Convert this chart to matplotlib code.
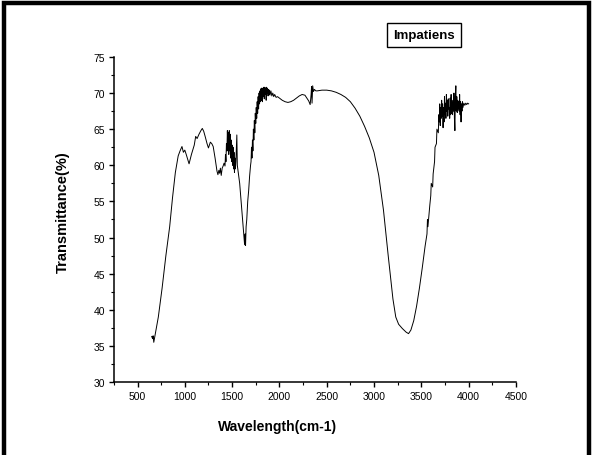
import matplotlib
matplotlib.use("Agg")
import matplotlib.pyplot as plt
from matplotlib.patches import Rectangle
from matplotlib.ticker import MultipleLocator

plt.rcParams["font.family"] = ["Liberation Sans", "DejaVu Sans"]

# FTIR spectrum
wavenumber = [
    650, 660, 665, 672, 690, 720, 760, 800, 840, 870, 900, 930, 950, 970, 985,
    1000, 1015, 1045, 1070, 1100, 1115, 1130, 1150, 1170, 1185, 1200, 1215,
    1235, 1250, 1270, 1285, 1300, 1320, 1340, 1350, 1360, 1368, 1376, 1385,
    1395, 1405, 1415, 1425,
    1430, 1435, 1440, 1445, 1450, 1455, 1460, 1465, 1470, 1475, 1480, 1485,
    1490, 1495, 1500, 1505, 1510, 1515, 1520, 1525, 1530, 1535, 1540, 1550,
    1555, 1560, 1570, 1580, 1595, 1610, 1625, 1632, 1638, 1642, 1648, 1655,
    1665, 1675, 1685, 1695,
    1700, 1705, 1710, 1715, 1720, 1725, 1730, 1735, 1740, 1745, 1750, 1755,
    1760, 1765, 1770, 1775, 1780, 1785, 1790, 1795, 1800, 1805, 1810, 1815,
    1820, 1825, 1830, 1835, 1840, 1845, 1850, 1855, 1860, 1865, 1870, 1875,
    1880, 1885, 1890, 1895, 1900, 1910, 1920, 1930, 1940, 1950, 1965, 1980,
    2000, 2030, 2060, 2090, 2120, 2150, 2180, 2210, 2240, 2270, 2290, 2310,
    2325, 2335, 2340, 2345, 2352, 2360, 2370, 2385, 2400, 2450, 2500, 2550,
    2600, 2650, 2700, 2750, 2800, 2850, 2900, 2950, 3000, 3050, 3100, 3150,
    3200, 3230, 3260, 3300, 3340, 3365, 3390, 3420, 3450, 3480, 3510, 3540,
    3560, 3565, 3570, 3590, 3600, 3605, 3620, 3625, 3640, 3645, 3660, 3665,
    3680, 3685,
    3690, 3695, 3700, 3705, 3710, 3715, 3720, 3725, 3730, 3735, 3740, 3745,
    3750, 3755, 3760, 3765, 3770, 3775, 3780, 3785, 3790, 3795, 3800, 3805,
    3810, 3815, 3820, 3825, 3830, 3835, 3840, 3845, 3850, 3855, 3860, 3865,
    3870, 3875, 3880, 3885, 3890, 3895, 3900, 3905, 3910, 3915, 3920, 3925,
    3930, 3935, 3940, 3950, 3960, 3970, 3980, 3990, 4000,
]
transmittance = [
    36.3, 36.0, 36.4, 35.5, 36.8, 39.0, 43.0, 47.5, 51.5, 55.5, 59.0, 61.3,
    62.0, 62.6, 61.8, 62.1, 61.5, 60.2, 61.5, 62.8, 64.0, 63.7, 64.3, 64.8,
    65.1, 64.7, 64.0, 63.0, 62.4, 63.2, 63.0, 62.6, 61.0, 59.2, 58.7, 59.3,
    58.9, 59.6, 58.6, 59.6, 59.9, 60.3, 59.9,
    61.5, 60.5, 63.0, 62.0, 64.8, 62.0, 64.5, 61.5, 64.8, 62.0, 64.3, 61.0,
    63.5, 60.5, 62.8, 60.0, 62.5, 59.5, 61.8, 59.0, 61.0, 59.5, 60.5, 64.2,
    60.0, 59.5, 58.5, 57.5, 55.0, 52.5, 50.0, 49.0, 50.5, 48.9, 51.5, 52.5,
    55.0, 56.5, 58.5, 60.0,
    60.5, 62.5, 61.0, 63.5, 62.0, 65.0, 63.5, 66.2, 64.5, 67.2, 65.8, 68.0,
    66.5, 68.8, 67.2, 69.5, 67.8, 70.0, 68.5, 70.3, 68.8, 70.6, 69.0, 70.7,
    68.8, 70.6, 69.5, 70.8, 69.2, 70.8, 69.8, 70.7, 69.0, 70.8, 70.0, 70.6,
    69.6, 70.5, 69.8, 70.4, 69.7, 70.3, 69.6, 70.0, 69.5, 69.8, 69.4, 69.5,
    69.3, 69.0, 68.8, 68.7, 68.8, 69.0, 69.3, 69.6, 69.8, 69.7, 69.3, 68.9,
    68.4, 69.8, 70.9, 68.6, 71.0, 70.2, 70.5, 70.3, 70.3, 70.4, 70.4, 70.3,
    70.1, 69.8, 69.4, 68.8, 67.9, 66.8, 65.4, 63.8, 61.8, 58.6, 53.8, 47.5,
    41.5, 39.0, 38.0, 37.4, 36.9, 36.7, 37.2, 38.5, 40.5, 43.0, 45.8, 48.8,
    50.5, 52.5, 51.5, 54.5, 55.8, 57.5, 57.0, 58.8, 60.5, 62.5, 63.0, 65.0,
    64.5, 67.0,
    66.0, 68.5, 65.5, 68.0, 66.5, 69.0, 66.8, 68.5, 65.2, 68.0, 66.0, 69.5,
    67.0, 68.6, 66.5, 69.8, 67.5, 69.0, 66.8, 69.2, 67.8, 68.0, 66.5, 69.3,
    67.0, 69.8, 67.2, 68.6, 67.0, 69.0, 67.5, 70.0, 66.5, 64.8, 69.5, 71.0,
    67.5, 69.5, 67.3, 69.0, 67.8, 68.8, 67.5, 69.8, 67.0, 68.8, 66.0, 68.5,
    67.5, 68.8, 68.0, 68.6, 68.3, 68.6, 68.4, 68.6, 68.5,
]
legend_label = "Impatiens"

fig = plt.figure(figsize=(5.93, 4.56), dpi=100)
ax = fig.add_axes([0.192, 0.160, 0.678, 0.713])
ax.plot(wavenumber, transmittance, color="black", lw=0.7)

ax.set_xlim(250, 4500)
ax.set_ylim(30, 75)
ax.xaxis.set_minor_locator(MultipleLocator(250))
ax.yaxis.set_major_locator(MultipleLocator(5))
ax.yaxis.set_minor_locator(MultipleLocator(2.5))
ax.set_xticks(range(500, 4501, 500))
for s in ("top", "right"):
    ax.spines[s].set_visible(False)
for s in ("left", "bottom"):
    ax.spines[s].set_linewidth(1.1)
ax.tick_params(which="major", direction="out", length=3.5, width=1.0,
               labelsize=7.5, pad=3)
ax.tick_params(which="minor", direction="out", length=2, width=0.8)

ax.set_xlabel("Wavelength(cm-1)", fontsize=10, fontweight="bold")
ax.set_ylabel("Transmittance(%)", fontsize=10.5, fontweight="bold")
ax.xaxis.set_label_coords(0.408, -0.115)
ax.yaxis.set_label_coords(-0.11, 0.526)

fig.text(0.715, 0.922, legend_label, fontsize=9.5, fontweight="bold",
         ha="center", va="center",
         bbox=dict(boxstyle="square,pad=0.45", fc="white", ec="black", lw=1))

# thick frame around the whole picture (bottom edge runs off the image)
fig.patches.append(Rectangle((0.006, -0.1), 0.988, 1.091, transform=fig.transFigure,
                             fill=False, ec="black", lw=3.2, clip_on=False))

fig.savefig("out.png", dpi=100)
